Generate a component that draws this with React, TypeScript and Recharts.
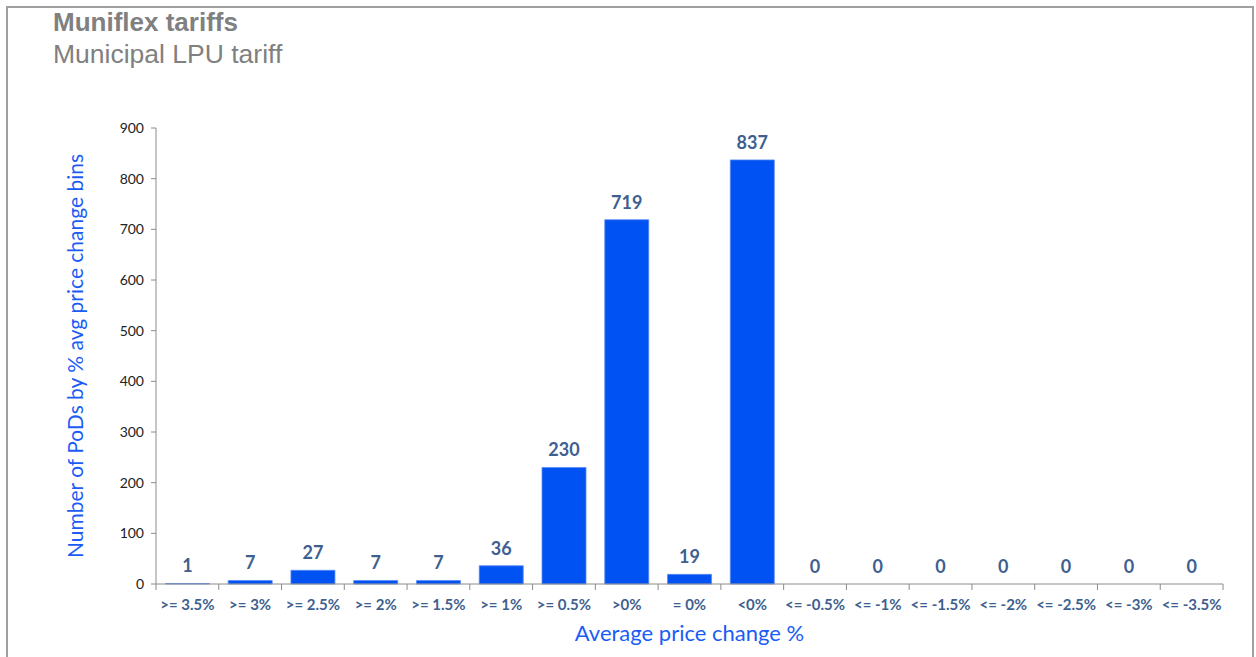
import React from "react";
import { ComposedChart, Bar, Line, XAxis, YAxis, LabelList } from "recharts";

const categories = [">= 3.5%", ">= 3%", ">= 2.5%", ">= 2%", ">= 1.5%", ">= 1%", ">= 0.5%", ">0%", "= 0%", "<0%", "<= -0.5%", "<= -1%", "<= -1.5%", "<= -2%", "<= -2.5%", "<= -3%", "<= -3.5%"];
const counts = [1, 7, 27, 7, 7, 36, 230, 719, 19, 837, 0, 0, 0, 0, 0, 0, 0];
const yTicks = [0, 100, 200, 300, 400, 500, 600, 700, 800, 900];

const data = categories.map((c, i) => ({ name: c, value: counts[i] }));

const FONT = "Lato, 'Open Sans', sans-serif";
const SLATE = "#3E5F8F";
const BLUE = "#0052F2";
const LABEL_BLUE = "#1A5CF5";
const AXIS = "#8c8c8c";

const XTick = (props: any) => {
  const { x, y, payload, index, visibleTicksCount } = props;
  const half = payload && payload.offset ? payload.offset : 31.4;
  const y0 = y - 8;
  return (
    <g>
      <line x1={x - half} x2={x - half} y1={y0} y2={y0 + 6} stroke={AXIS} strokeWidth={1} />
      {index === visibleTicksCount - 1 ? (
        <line x1={x + half} x2={x + half} y1={y0} y2={y0 + 6} stroke={AXIS} strokeWidth={1} />
      ) : null}
      <text x={x} y={y0 + 26} textAnchor="middle" fill={SLATE} fontSize={15} fontWeight={700} fontFamily={FONT}>
        {payload.value}
      </text>
    </g>
  );
};

export default function App() {
  return (
    <div style={{ position: "absolute", left: 0, top: 0, width: 1256, height: 657, background: "#fff", overflow: "hidden" }}>
      <div
        style={{
          position: "absolute",
          left: 6,
          top: 6,
          width: 1244,
          height: 700,
          borderTop: "2px solid #a0a0a0",
          borderLeft: "2px solid #a0a0a0",
          borderRight: "2px solid #a0a0a0",
        }}
      />
      <div style={{ position: "absolute", left: 53, top: 7, fontFamily: "'Liberation Sans', Arial, sans-serif", color: "#808080", fontSize: 26, fontWeight: 700, lineHeight: "30px" }}>
        Muniflex tariffs
      </div>
      <div style={{ position: "absolute", left: 53, top: 39, fontFamily: "'Liberation Sans', Arial, sans-serif", color: "#808080", fontSize: 26.5, lineHeight: "30px" }}>
        Municipal LPU tariff
      </div>
      <div style={{ position: "absolute", left: 0, top: 0 }}>
        <ComposedChart width={1256} height={657} data={data} margin={{ top: 128, right: 33, bottom: 0, left: 0 }} barCategoryGap="15%">
          <XAxis
            dataKey="name"
            height={73}
            interval={0}
            tickLine={false}
            stroke={AXIS}
            tick={<XTick />}
            label={{ value: "Average price change %", position: "insideBottom", offset: 16, fill: LABEL_BLUE, fontSize: 22, fontFamily: FONT }}
          />
          <YAxis
            width={156}
            domain={[0, 900]}
            ticks={yTicks}
            interval={0}
            stroke={AXIS}
            tickSize={5}
            tick={{ fill: "#222", fontSize: 14, fontFamily: FONT, dx: -5 }}
            label={{ value: "Number of PoDs by % avg price change bins", angle: -90, position: "insideLeft", offset: 76, fill: LABEL_BLUE, fontSize: 21, fontFamily: FONT, style: { textAnchor: "middle" } }}
          />
          <Bar dataKey="value" fill={BLUE} stroke="#5a8cf5" strokeWidth={0.8} isAnimationActive={false} />
          <Line dataKey="value" stroke="none" dot={false} activeDot={false} isAnimationActive={false}>
            <LabelList dataKey="value" position="top" offset={11} fill={SLATE} fontSize={18} fontWeight={700} fontFamily={FONT} />
          </Line>
        </ComposedChart>
      </div>
    </div>
  );
}
